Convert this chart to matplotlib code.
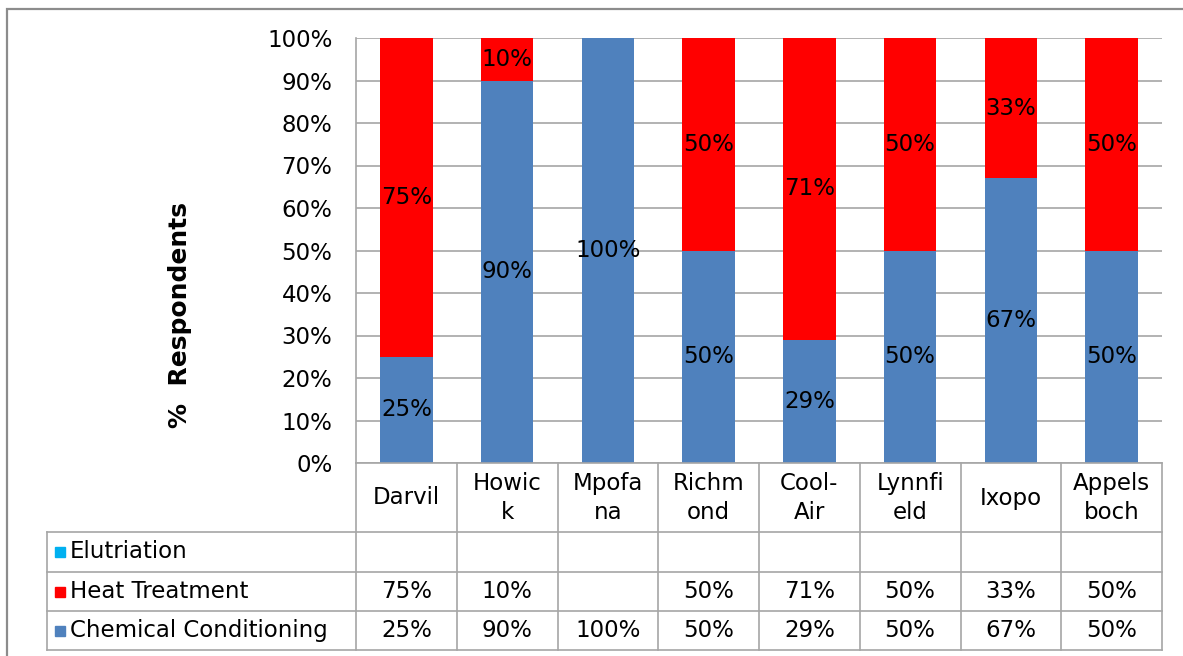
import matplotlib
matplotlib.use('Agg')
import matplotlib.pyplot as plt
from matplotlib.patches import Rectangle
from matplotlib.ticker import PercentFormatter

# ── data ────────────────────────────────────────────────────
categories  = ["Darvil", "Howic\nk", "Mpofa\nna", "Richm\nond", "Cool-\nAir",
               "Lynnfi\neld", "Ixopo", "Appels\nboch"]
elutriation = [None, None, None, None, None, None, None, None]
heat        = [75, 10, None, 50, 71, 50, 33, 50]
chemical    = [25, 90, 100, 50, 29, 50, 67, 50]

series = [("Elutriation", elutriation, "#00B0F0"),
          ("Heat Treatment", heat, "#FF0000"),
          ("Chemical Conditioning", chemical, "#4F81BD")]

GRID = "#A6A6A6"
FS = 16.5

W, H = 1183, 656
fig = plt.figure(figsize=(W / 100, H / 100), dpi=100)


def box(x0, y0, x1, y1):
    """pixel box (y from top) -> figure fraction rect"""
    return [x0 / W, 1 - y1 / H, (x1 - x0) / W, (y1 - y0) / H]


# ── stacked bars ────────────────────────────────────────────
ax = fig.add_axes(box(356, 38, 1162, 463))
xs = list(range(len(categories)))
bottom = [0] * len(categories)
for name, vals, col in [series[2], series[1], series[0]]:
    v = [0 if a is None else a for a in vals]
    ax.bar(xs, v, bottom=bottom, width=0.52, color=col, zorder=2)
    for i, (b, a) in enumerate(zip(bottom, vals)):
        if a:
            ax.text(i, b + a / 2, f"{a}%", ha="center", va="center",
                    fontsize=FS, color="black", zorder=3)
    bottom = [b + a for b, a in zip(bottom, v)]

ax.set_xlim(-0.5, len(categories) - 0.5)
ax.set_ylim(0, 100)
ax.set_yticks(range(0, 101, 10))
ax.yaxis.set_major_formatter(PercentFormatter(decimals=0))
ax.set_xticks([])
ax.tick_params(axis="y", length=0, pad=17, labelsize=FS)
ax.yaxis.grid(True, color=GRID, lw=1.2)
ax.set_axisbelow(True)
for s in ["top", "right"]:
    ax.spines[s].set_visible(False)
for s in ["left", "bottom"]:
    ax.spines[s].set_color(GRID)
    ax.spines[s].set_linewidth(1.2)

fig.text(180 / W, 1 - 315 / H, "%  Respondents", rotation=90, ha="center",
         va="center", fontsize=18, fontweight="bold")

# ── data table ──────────────────────────────────────────────
tab = fig.add_axes(box(47, 463, 1162, 650))
col_w = (1162 - 356) / len(categories)
xl = -0.5 - (356 - 47) / col_w
xr = len(categories) - 0.5
tab.set_xlim(xl, xr)
tab.set_ylim(187, 0)
tab.axis("off")


def tx(px):
    return xl + (px - 47) / col_w


rows = [69, 109, 148, 187]
for y in rows:
    tab.plot([xl, xr], [y, y], color=GRID, lw=1.2, clip_on=False)
tab.plot([xl, xl], [rows[0], rows[-1]], color=GRID, lw=1.2, clip_on=False)
for i in range(len(categories) + 1):
    tab.plot([i - 0.5, i - 0.5], [0, rows[-1]], color=GRID, lw=1.2, clip_on=False)

for i, cat in enumerate(categories):
    tab.text(i, 35, cat, ha="center", va="center", fontsize=FS, linespacing=1.3)

for r, (name, vals, col) in enumerate(series):
    yc = (rows[r] + rows[r + 1]) / 2
    tab.add_patch(Rectangle((tx(55), yc - 5), tx(65) - tx(55), 10,
                            color=col, clip_on=False))
    tab.text(tx(70), yc, name, ha="left", va="center", fontsize=FS)
    for i, a in enumerate(vals):
        if a is not None:
            tab.text(i, yc, f"{a}%", ha="center", va="center", fontsize=FS)

# outer chart border (partly cropped in the original)
fig.patches.append(Rectangle((7 / W, -0.1), 1.2, 1.1 - 9 / H,
                             transform=fig.transFigure, fill=False,
                             edgecolor="#8C8C8C", lw=1.6))

fig.savefig("out.png", dpi=100)
